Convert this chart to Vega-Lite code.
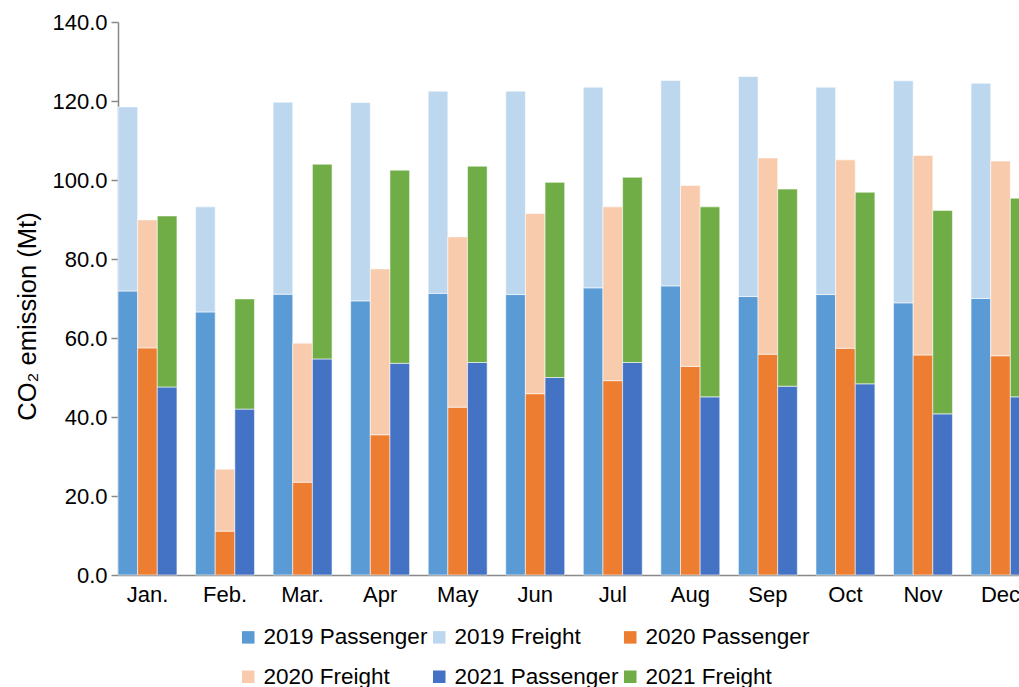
{
  "$schema": "https://vega.github.io/schema/vega-lite/v6.json",
  "autosize": {"type": "none"},
  "padding": {"left": 118, "top": 22, "right": 0, "bottom": 112},
  "width": 912,
  "height": 553,
  "config": {
    "font": "Liberation Sans",
    "view": {"stroke": null},
    "axis": {"grid": false}
  },
  "data": {
    "values": [
      {"month": "Jan.", "year": "2019", "series": "2019 Passenger", "value": 71.9},
      {"month": "Jan.", "year": "2019", "series": "2019 Freight", "value": 46.6},
      {"month": "Jan.", "year": "2020", "series": "2020 Passenger", "value": 57.5},
      {"month": "Jan.", "year": "2020", "series": "2020 Freight", "value": 32.4},
      {"month": "Jan.", "year": "2021", "series": "2021 Passenger", "value": 47.6},
      {"month": "Jan.", "year": "2021", "series": "2021 Freight", "value": 43.3},
      {"month": "Feb.", "year": "2019", "series": "2019 Passenger", "value": 66.6},
      {"month": "Feb.", "year": "2019", "series": "2019 Freight", "value": 26.6},
      {"month": "Feb.", "year": "2020", "series": "2020 Passenger", "value": 11.1},
      {"month": "Feb.", "year": "2020", "series": "2020 Freight", "value": 15.7},
      {"month": "Feb.", "year": "2021", "series": "2021 Passenger", "value": 42.0},
      {"month": "Feb.", "year": "2021", "series": "2021 Freight", "value": 27.9},
      {"month": "Mar.", "year": "2019", "series": "2019 Passenger", "value": 71.1},
      {"month": "Mar.", "year": "2019", "series": "2019 Freight", "value": 48.6},
      {"month": "Mar.", "year": "2020", "series": "2020 Passenger", "value": 23.5},
      {"month": "Mar.", "year": "2020", "series": "2020 Freight", "value": 35.2},
      {"month": "Mar.", "year": "2021", "series": "2021 Passenger", "value": 54.7},
      {"month": "Mar.", "year": "2021", "series": "2021 Freight", "value": 49.3},
      {"month": "Apr", "year": "2019", "series": "2019 Passenger", "value": 69.4},
      {"month": "Apr", "year": "2019", "series": "2019 Freight", "value": 50.2},
      {"month": "Apr", "year": "2020", "series": "2020 Passenger", "value": 35.5},
      {"month": "Apr", "year": "2020", "series": "2020 Freight", "value": 42.0},
      {"month": "Apr", "year": "2021", "series": "2021 Passenger", "value": 53.6},
      {"month": "Apr", "year": "2021", "series": "2021 Freight", "value": 48.9},
      {"month": "May", "year": "2019", "series": "2019 Passenger", "value": 71.3},
      {"month": "May", "year": "2019", "series": "2019 Freight", "value": 51.2},
      {"month": "May", "year": "2020", "series": "2020 Passenger", "value": 42.5},
      {"month": "May", "year": "2020", "series": "2020 Freight", "value": 43.1},
      {"month": "May", "year": "2021", "series": "2021 Passenger", "value": 53.8},
      {"month": "May", "year": "2021", "series": "2021 Freight", "value": 49.7},
      {"month": "Jun", "year": "2019", "series": "2019 Passenger", "value": 71.0},
      {"month": "Jun", "year": "2019", "series": "2019 Freight", "value": 51.5},
      {"month": "Jun", "year": "2020", "series": "2020 Passenger", "value": 45.9},
      {"month": "Jun", "year": "2020", "series": "2020 Freight", "value": 45.6},
      {"month": "Jun", "year": "2021", "series": "2021 Passenger", "value": 50.0},
      {"month": "Jun", "year": "2021", "series": "2021 Freight", "value": 49.4},
      {"month": "Jul", "year": "2019", "series": "2019 Passenger", "value": 72.7},
      {"month": "Jul", "year": "2019", "series": "2019 Freight", "value": 50.8},
      {"month": "Jul", "year": "2020", "series": "2020 Passenger", "value": 49.2},
      {"month": "Jul", "year": "2020", "series": "2020 Freight", "value": 44.0},
      {"month": "Jul", "year": "2021", "series": "2021 Passenger", "value": 53.8},
      {"month": "Jul", "year": "2021", "series": "2021 Freight", "value": 46.9},
      {"month": "Aug", "year": "2019", "series": "2019 Passenger", "value": 73.2},
      {"month": "Aug", "year": "2019", "series": "2019 Freight", "value": 52.0},
      {"month": "Aug", "year": "2020", "series": "2020 Passenger", "value": 52.8},
      {"month": "Aug", "year": "2020", "series": "2020 Freight", "value": 45.8},
      {"month": "Aug", "year": "2021", "series": "2021 Passenger", "value": 45.1},
      {"month": "Aug", "year": "2021", "series": "2021 Freight", "value": 48.1},
      {"month": "Sep", "year": "2019", "series": "2019 Passenger", "value": 70.5},
      {"month": "Sep", "year": "2019", "series": "2019 Freight", "value": 55.7},
      {"month": "Sep", "year": "2020", "series": "2020 Passenger", "value": 55.9},
      {"month": "Sep", "year": "2020", "series": "2020 Freight", "value": 49.7},
      {"month": "Sep", "year": "2021", "series": "2021 Passenger", "value": 47.8},
      {"month": "Sep", "year": "2021", "series": "2021 Freight", "value": 49.9},
      {"month": "Oct", "year": "2019", "series": "2019 Passenger", "value": 71.0},
      {"month": "Oct", "year": "2019", "series": "2019 Freight", "value": 52.5},
      {"month": "Oct", "year": "2020", "series": "2020 Passenger", "value": 57.4},
      {"month": "Oct", "year": "2020", "series": "2020 Freight", "value": 47.7},
      {"month": "Oct", "year": "2021", "series": "2021 Passenger", "value": 48.4},
      {"month": "Oct", "year": "2021", "series": "2021 Freight", "value": 48.5},
      {"month": "Nov", "year": "2019", "series": "2019 Passenger", "value": 68.9},
      {"month": "Nov", "year": "2019", "series": "2019 Freight", "value": 56.2},
      {"month": "Nov", "year": "2020", "series": "2020 Passenger", "value": 55.7},
      {"month": "Nov", "year": "2020", "series": "2020 Freight", "value": 50.5},
      {"month": "Nov", "year": "2021", "series": "2021 Passenger", "value": 40.8},
      {"month": "Nov", "year": "2021", "series": "2021 Freight", "value": 51.5},
      {"month": "Dec", "year": "2019", "series": "2019 Passenger", "value": 70.0},
      {"month": "Dec", "year": "2019", "series": "2019 Freight", "value": 54.5},
      {"month": "Dec", "year": "2020", "series": "2020 Passenger", "value": 55.5},
      {"month": "Dec", "year": "2020", "series": "2020 Freight", "value": 49.3},
      {"month": "Dec", "year": "2021", "series": "2021 Passenger", "value": 45.1},
      {"month": "Dec", "year": "2021", "series": "2021 Freight", "value": 50.3}
    ]
  },
  "mark": {"type": "bar", "stroke": "white", "strokeWidth": 0.8, "strokeOpacity": 0.7},
  "encoding": {
    "x": {
      "field": "month",
      "type": "nominal",
      "sort": null,
      "title": null,
      "scale": {"paddingInner": 0.24, "paddingOuter": 0},
      "axis": {
        "labelAngle": 0,
        "labelFontSize": 22,
        "labelColor": "#000000",
        "labelPadding": 9,
        "ticks": false,
        "domainColor": "#898989",
        "domainWidth": 1.5
      }
    },
    "xOffset": {
      "field": "year",
      "type": "nominal",
      "scale": {"paddingInner": 0, "paddingOuter": 0}
    },
    "y": {
      "field": "value",
      "type": "quantitative",
      "stack": "zero",
      "title": "CO₂ emission (Mt)",
      "scale": {"domain": [0, 140], "nice": false},
      "axis": {
        "values": [0, 20, 40, 60, 80, 100, 120, 140],
        "format": ".1f",
        "labelFontSize": 22,
        "labelColor": "#000000",
        "labelPadding": 4,
        "tickSize": 7,
        "tickColor": "#898989",
        "tickWidth": 1.5,
        "domainColor": "#898989",
        "domainWidth": 1.5,
        "titleFontSize": 25.5,
        "titleFontWeight": "normal",
        "titleColor": "#000000",
        "titlePadding": 11,
        "titleY": 294
      }
    },
    "color": {
      "field": "series",
      "type": "nominal",
      "scale": {
        "domain": ["2019 Passenger", "2019 Freight", "2020 Passenger", "2020 Freight", "2021 Passenger", "2021 Freight"],
        "range": ["#5B9BD5", "#BDD7EE", "#ED7D31", "#F8CBAD", "#4472C4", "#70AD47"]
      },
      "legend": {
        "title": null,
        "orient": "none",
        "legendX": 119,
        "legendY": 604,
        "direction": "horizontal",
        "columns": 3,
        "symbolType": "square",
        "symbolSize": 156,
        "symbolStrokeWidth": 0,
        "labelFontSize": 22.5,
        "labelColor": "#000000",
        "labelOffset": 4,
        "columnPadding": 0,
        "rowPadding": 16.5,
        "labelLimit": 300
      }
    },
    "order": {"field": "series", "sort": "descending"}
  }
}
